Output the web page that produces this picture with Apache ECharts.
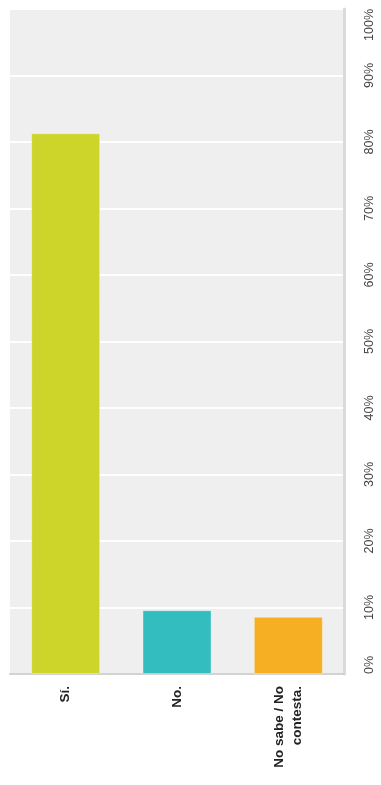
<!DOCTYPE html>
<html>
<head>
<meta charset="utf-8">
<script src="https://cdn.jsdelivr.net/npm/echarts@6/dist/echarts.min.js"></script>
<style>
  html, body { margin: 0; padding: 0; background: #fff; }
  #chart { width: 381px; height: 785px; }
</style>
</head>
<body>
<div id="chart"></div>
<script>
// 数据
const categories = ['Sí.', 'No.', 'No sabe / No\ncontesta.']
const values = [81.3, 9.6, 8.6]
const barColors = ['#cdd42a', '#33bdbf', '#f6af22']

const chart = echarts.init(document.getElementById('chart'))

const option = {
    animation: false,
    textStyle: { fontFamily: 'Liberation Sans, Arial, sans-serif' },
    grid: {
        left: 10,
        right: 37,
        top: 9,
        bottom: 111,
        show: true,
        backgroundColor: '#efefef',
        borderWidth: 0
    },
    xAxis: {
        type: 'category',
        data: categories,
        axisLine: { show: true, lineStyle: { color: '#d2d2d2', width: 2 } },
        axisTick: { show: false },
        axisLabel: {
            rotate: 90,
            margin: 12,
            fontSize: 13.5,
            fontWeight: 'bold',
            color: '#222',
            lineHeight: 18
        }
    },
    yAxis: {
        type: 'value',
        position: 'right',
        min: 0,
        max: 100,
        interval: 10,
        axisLine: { show: true, lineStyle: { color: '#dadada', width: 3 } },
        axisTick: { show: false },
        splitLine: { lineStyle: { color: '#ffffff', width: 2 } },
        axisLabel: {
            formatter: '{value}%',
            rotate: 90,
            margin: 19,
            fontSize: 12.5,
            color: '#444',
            alignMinLabel: 'left',
            alignMaxLabel: 'right'
        }
    },
    series: [
        {
            type: 'bar',
            barWidth: '62%',
            data: values.map((v, i) => ({
                value: v,
                itemStyle: { color: barColors[i] }
            })),
            itemStyle: {
                borderColor: 'rgba(255,255,255,0.35)',
                borderWidth: 1
            }
        }
    ]
}

chart.setOption(option)
</script>
</body>
</html>
